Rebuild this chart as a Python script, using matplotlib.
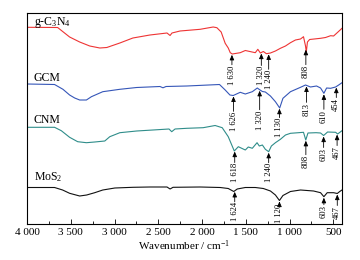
import numpy as np
import matplotlib
matplotlib.use('Agg')
import matplotlib.pyplot as plt
from matplotlib.ticker import MultipleLocator

plt.rcParams['font.family'] = ['Liberation Serif', 'DejaVu Serif']
plt.rcParams['mathtext.fontset'] = 'custom'
plt.rcParams['mathtext.rm'] = 'Liberation Serif'
plt.rcParams['mathtext.it'] = 'Liberation Serif:italic'

# espectros FTIR (unidades arbitrarias, ya desplazados)
red_wn = [4000, 3650, 3513, 3398, 3283, 3168, 3088, 2939, 2790, 2595,
          2400, 2365, 2343, 2251, 2021, 1872, 1830, 1781, 1735, 1700,
          1677, 1654, 1563, 1505, 1391, 1362, 1333, 1299, 1264, 1218,
          1161, 1104, 1046, 989, 932, 874, 840, 817, 808, 795,
          770, 645, 588, 530, 496, 462, 400]
red_y = [196.7, 196.5, 187, 182, 178, 176, 176.5, 181, 186, 189,
         191, 188.5, 191, 193, 194.7, 197, 196.3, 192, 180.7, 176,
         171.3, 170, 171.3, 173.5, 171.3, 174.7, 171, 172.5, 170.3, 171,
         173, 175.7, 178, 181.3, 184, 185, 187.3, 178, 172, 182,
         184.5, 185.7, 186.5, 188.3, 188, 190.7, 195.7]

gcm_wn = [4000, 3685, 3589, 3513, 3455, 3398, 3321, 3264, 3134, 2939,
          2747, 2480, 2446, 2411, 2174, 1800, 1735, 1681, 1643, 1563,
          1505, 1425, 1368, 1345, 1310, 1276, 1218, 1161, 1112, 1075,
          989, 874, 817, 760, 691, 645, 607, 576, 530, 473,
          438, 400]
gcm_y = [140, 139.5, 134.7, 129, 126, 124, 124, 127.3, 132.3, 134.7,
         136.5, 137.5, 136.2, 137.5, 138, 139.5, 134, 129, 128.5, 131.7,
         130, 132.3, 136, 134.5, 132.5, 132, 128, 122.3, 116, 125.7,
         132.3, 136.7, 139, 137, 138, 136, 130.7, 136, 135.7, 137,
         139, 141.3]

cnm_wn = [4000, 3685, 3608, 3513, 3421, 3321, 3226, 3111, 3054, 2939,
          2747, 2561, 2377, 2346, 2308, 2174, 1987, 1850, 1769, 1700,
          1631, 1585, 1505, 1471, 1425, 1371, 1345, 1310, 1276, 1238,
          1207, 1161, 1104, 1046, 989, 897, 840, 814, 789, 696,
          645, 610, 565, 473, 450, 400]
cnm_y = [96.7, 96.7, 93.3, 86.7, 82.3, 81.3, 82, 83, 87.3, 91.3,
         93, 94, 95, 92.3, 95, 95.7, 96.3, 98.5, 96.3, 87.3,
         73, 77.3, 74, 77, 75.7, 81.3, 78, 79, 74.7, 72.3,
         78, 81.3, 84.7, 89, 90.7, 91.3, 91.7, 84, 91, 91.3,
         91, 88.5, 92, 91.7, 90, 93.3]

mos2_wn = [4000, 3685, 3593, 3513, 3398, 3318, 3226, 3134, 2996, 2790,
           2595, 2400, 2365, 2331, 2021, 1792, 1700, 1637, 1597, 1505,
           1391, 1299, 1218, 1161, 1115, 1075, 989, 874, 725, 645,
           607, 569, 496, 454, 426, 400]
mos2_y = [36.5, 36.5, 34, 30.7, 28, 29, 31.3, 34, 36, 36.7,
          37, 37, 35, 36.7, 37, 36.5, 35.5, 32.5, 35, 36.5,
          36.5, 35.5, 33, 29, 23.5, 28.5, 32.5, 34, 33, 31.3,
          27.3, 31.3, 31.3, 30.5, 32.5, 34]

# picos marcados
red_pk = ['1 630', '1 320', '1 240', '808']
red_pk_x = [1658, 1322, 1238, 813]
gcm_pk = ['1 626', '1 320', '1 130', '813', '610', '454']
gcm_pk_x = [1640, 1341, 1115, 806, 607, 465]
cnm_pk = ['1 618', '1 240', '808', '603', '467']
cnm_pk_x = [1626, 1238, 813, 610, 456]
mos2_pk = ['1 624', '1 120', '603', '467']
mos2_pk_x = [1626, 1115, 607, 454]

# largo de cada flecha
red_len = [10, 12, 15, 15]
gcm_len = [15, 19, 9, 16, 15, 10]
cnm_len = [11, 10, 14, 11, 11]
mos2_len = [10, 2, 7, 11]

nombres = ['g-C$_\\mathregular{3}$N$_\\mathregular{4}$', 'GCM', 'CNM', 'MoS$_\\mathregular{2}$']
nombre_y = [199, 143, 101, 44]

fig = plt.figure(figsize=(3.6, 2.6), dpi=100)
ax = fig.add_axes([27 / 360, 36 / 260, 315 / 360, 211 / 260])

series = [
    (red_wn, red_y, '#ee3434', red_pk, red_pk_x, red_len),
    (gcm_wn, gcm_y, '#3556b8', gcm_pk, gcm_pk_x, gcm_len),
    (cnm_wn, cnm_y, '#2f8d8a', cnm_pk, cnm_pk_x, cnm_len),
    (mos2_wn, mos2_y, '#111111', mos2_pk, mos2_pk_x, mos2_len),
]

for i, (wn, y, col, pk, pkx, largo) in enumerate(series):
    ax.plot(wn, y, color=col, lw=0.8)
    ax.text(3925, nombre_y[i], nombres[i], fontsize=8.5, ha='left', va='baseline')
    wn_r = np.array(wn)[::-1]
    y_r = np.array(y)[::-1]
    for lab, x, l in zip(pk, pkx, largo):
        tip = np.interp(x, wn_r, y_r) - 1
        tail = tip - l
        ax.annotate('', xy=(x, tip), xytext=(x, tail),
                    arrowprops=dict(arrowstyle='-|>,head_length=0.3,head_width=0.13',
                                    lw=0.6, color='k', shrinkA=0, shrinkB=0))
        ax.text(x, tail - 0.5, lab, rotation=90, ha='center', va='top', fontsize=6.2)

ax.set_xlim(4000, 400)
ax.set_ylim(0, 211)
ax.set_yticks([])
ax.set_xticks([4000, 3500, 3000, 2500, 2000, 1500, 1000, 500])
ax.set_xticklabels(['4 000', '3 500', '3 000', '2 500', '2 000', '1 500', '1 000', '500'])
ax.xaxis.set_minor_locator(MultipleLocator(250))
ax.tick_params(axis='x', which='major', direction='in', length=3.5, width=0.6, labelsize=8, pad=3)
ax.tick_params(axis='x', which='minor', direction='in', length=2, width=0.6)
for s in ax.spines.values():
    s.set_linewidth(0.8)
ax.set_xlabel('Wavenumber / cm$^{\\mathregular{-1}}$', fontsize=8, labelpad=1)

plt.savefig('out.png', dpi=100)
